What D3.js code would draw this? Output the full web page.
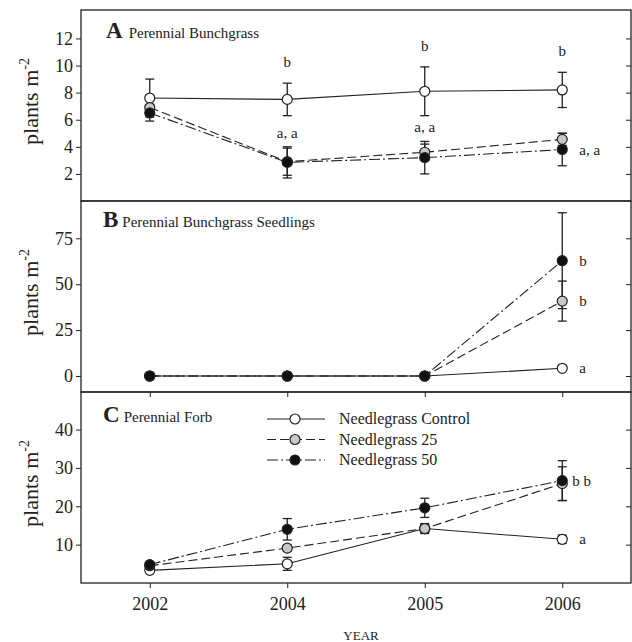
<!DOCTYPE html>
<html>
<head>
<meta charset="utf-8">
<script src="https://cdn.jsdelivr.net/npm/d3@7"></script>
<style>
  html, body { margin: 0; padding: 0; background: #fff; }
  svg { display: block; }
  text { font-family: "Liberation Serif", "Times New Roman", serif; fill: #222; }
</style>
</head>
<body>
<svg id="chart" width="632" height="642"></svg>
<script>
// ---- data ----
const years = ["2002", "2004", "2005", "2006"];
const seriesNames = ["Needlegrass Control", "Needlegrass 25", "Needlegrass 50"];

// Perennial bunchgrass (plants m-2): means and standard errors
const bunchControl = [7.6, 7.5, 8.1, 8.2];
const bunchControlSE = [1.4, 1.2, 1.8, 1.3];
const bunch25 = [6.9, 2.9, 3.6, 4.55];
const bunch25SE = [0.5, 1.0, 0.6, 0.45];
const bunch50 = [6.5, 2.85, 3.2, 3.8];
const bunch50SE = [0.6, 1.15, 1.2, 1.2];

// Perennial bunchgrass seedlings
const seedControl = [0, 0, 0, 4.2];
const seedControlSE = [0, 0, 0, 0.5];
const seed25 = [0, 0, 0, 40.8];
const seed25SE = [0, 0, 0, 10.9];
const seed50 = [0, 0, 0, 62.8];
const seed50SE = [0, 0, 0, 26.1];

// Perennial forb
const forbControl = [3.3, 5.0, 14.2, 11.4];
const forbControlSE = [0.6, 1.7, 1.3, 1.1];
const forb25 = [4.5, 9.1, 14.2, 25.9];
const forb25SE = [0.5, 0.8, 1.0, 4.4];
const forb50 = [4.8, 14.0, 19.6, 26.7];
const forb50SE = [0.6, 2.8, 2.5, 5.2];

// Tick values
const ticksA = [2, 4, 6, 8, 10, 12];
const ticksB = [0, 25, 50, 75];
const ticksC = [10, 20, 30, 40];

// Significance letters: series index, year, text
const lettersA = [
  { s: 0, year: "2004", text: "b", place: "above" },
  { s: 0, year: "2005", text: "b", place: "above" },
  { s: 0, year: "2006", text: "b", place: "above" },
  { s: 2, year: "2004", text: "a, a", place: "above" },
  { s: 2, year: "2005", text: "a, a", place: "above" },
  { s: 2, year: "2006", text: "a, a", place: "right" }
];
const lettersB = [
  { s: 2, year: "2006", text: "b", place: "right" },
  { s: 1, year: "2006", text: "b", place: "right" },
  { s: 0, year: "2006", text: "a", place: "right" }
];
const lettersC = [
  { s: 2, year: "2006", text: "b b", place: "near" },
  { s: 0, year: "2006", text: "a", place: "right" }
];

// ---- layout ----
const svg = d3.select("#chart");
const left = 81, right = 631;
const panels = [
  { key: "A", title: "Perennial Bunchgrass", top: 10, bottom: 201, domain: [0, 14.1], ticks: ticksA,
    means: [bunchControl, bunch25, bunch50], se: [bunchControlSE, bunch25SE, bunch50SE], letters: lettersA,
    titleX: 106, titleDy: 28, titleGap: 6 },
  { key: "B", title: "Perennial Bunchgrass Seedlings", top: 201, bottom: 392, domain: [-8.7, 95.3], ticks: ticksB,
    means: [seedControl, seed25, seed50], se: [seedControlSE, seed25SE, seed50SE], letters: lettersB,
    titleX: 103, titleDy: 26, titleGap: 4 },
  { key: "C", title: "Perennial Forb", top: 392, bottom: 583, domain: [0, 49.8], ticks: ticksC,
    means: [forbControl, forb25, forb50], se: [forbControlSE, forb25SE, forb50SE], letters: lettersC,
    titleX: 103, titleDy: 30, titleGap: 4 }
];

const x = d3.scalePoint().domain(years).range([left, right]).padding(0.5);

const styles = [
  { dash: null, fill: "#ffffff" },
  { dash: "9,4", fill: "#c8c8c8" },
  { dash: "11,3,2,3", fill: "#111111" }
];
const ink = "#222";
const r = 5, cap = 4.5;

panels.forEach((p, pi) => {
  const y = d3.scaleLinear().domain(p.domain).range([p.bottom, p.top]);
  const g = svg.append("g");

  // left axis with labels
  const ax = g.append("g").attr("transform", `translate(${left},0)`)
    .call(d3.axisLeft(y).tickValues(p.ticks).tickSize(5).tickPadding(3).tickSizeOuter(0));
  ax.select(".domain").remove();
  ax.selectAll("line").attr("stroke", ink);
  ax.selectAll("text").style("font-size", "18px").attr("fill", ink);

  // right axis ticks pointing inward
  const axr = g.append("g").attr("transform", `translate(${right},0)`)
    .call(d3.axisLeft(y).tickValues(p.ticks).tickSize(5).tickFormat(""));
  axr.select(".domain").remove();
  axr.selectAll("line").attr("stroke", ink);

  // x ticks at the bottom of panels B and C
  if (pi >= 1) {
    const axb = g.append("g").attr("transform", `translate(0,${p.bottom})`)
      .call(d3.axisBottom(x).tickSize(5).tickPadding(9).tickFormat(pi === 2 ? d => d : ""));
    axb.select(".domain").remove();
    axb.selectAll("line").attr("stroke", ink);
    axb.selectAll("text").style("font-size", "18px").attr("fill", ink);
  }

  // panel frame
  g.append("rect").attr("x", left).attr("y", p.top)
    .attr("width", right - left).attr("height", p.bottom - p.top)
    .attr("fill", "none").attr("stroke", ink).attr("stroke-width", 1.3);

  // panel title
  const t = g.append("text").attr("x", p.titleX).attr("y", p.top + p.titleDy);
  t.append("tspan").text(p.key).style("font-size", "23px").style("font-weight", "bold");
  t.append("tspan").attr("dx", p.titleGap).text(p.title).style("font-size", "15px");

  // y label
  const yl = g.append("text")
    .attr("transform", `translate(38,${(p.top + p.bottom) / 2 - 4}) rotate(-90)`)
    .attr("text-anchor", "middle").style("font-size", "22px");
  yl.append("tspan").text("plants m");
  yl.append("tspan").text("-2").attr("dy", -9).style("font-size", "14px");

  // lines
  const line = d3.line().x((d, i) => x(years[i])).y(d => y(d));
  p.means.forEach((m, s) => {
    g.append("path").datum(m).attr("d", line).attr("fill", "none")
      .attr("stroke", ink).attr("stroke-width", 1.1)
      .attr("stroke-dasharray", styles[s].dash);
  });

  // error bars and markers
  p.means.forEach((m, s) => {
    const eb = g.append("g");
    m.forEach((v, i) => {
      const e = p.se[s][i];
      if (!e) return;
      const cx = x(years[i]);
      eb.append("line").attr("x1", cx).attr("x2", cx).attr("y1", y(v - e)).attr("y2", y(v + e))
        .attr("stroke", ink).attr("stroke-width", 1.3);
      [v - e, v + e].forEach(w => {
        eb.append("line").attr("x1", cx - cap).attr("x2", cx + cap).attr("y1", y(w)).attr("y2", y(w))
          .attr("stroke", ink).attr("stroke-width", 1.3);
      });
    });
  });
  p.means.forEach((m, s) => {
    g.append("g").selectAll("circle").data(m).join("circle")
      .attr("cx", (d, i) => x(years[i])).attr("cy", d => y(d)).attr("r", r)
      .attr("fill", styles[s].fill).attr("stroke", ink).attr("stroke-width", 1.2);
  });

  // significance letters
  p.letters.forEach(l => {
    const i = years.indexOf(l.year);
    const v = p.means[l.s][i], e = p.se[l.s][i];
    const cx = x(l.year);
    const txt = g.append("text").text(l.text).style("font-size", "15px");
    if (l.place === "above") {
      const off = l.text === "b" ? 16 : 9;
      txt.attr("x", cx).attr("y", y(v + e) - off).attr("text-anchor", "middle");
    } else if (l.place === "right") {
      txt.attr("x", cx + 17).attr("y", y(v) + 5);
    } else {
      txt.attr("x", cx + 10).attr("y", y(v) + 5);
    }
  });
});

// legend inside panel C
const legend = svg.append("g");
seriesNames.forEach((name, s) => {
  const ly = 419 + s * 20.5;
  legend.append("line").attr("x1", 267).attr("x2", 325).attr("y1", ly).attr("y2", ly)
    .attr("stroke", ink).attr("stroke-width", 1.1).attr("stroke-dasharray", styles[s].dash);
  legend.append("circle").attr("cx", 295).attr("cy", ly).attr("r", r)
    .attr("fill", styles[s].fill).attr("stroke", ink).attr("stroke-width", 1.2);
  legend.append("text").attr("x", 339).attr("y", ly + 5).text(name).style("font-size", "16px");
});

// x axis title
svg.append("text").attr("x", 361).attr("y", 640).attr("text-anchor", "middle")
  .style("font-size", "13px").text("YEAR");
</script>
</body>
</html>
